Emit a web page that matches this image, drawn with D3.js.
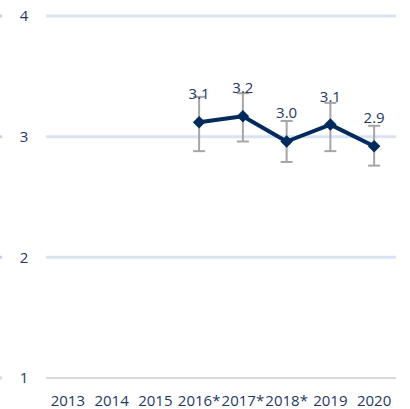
<!DOCTYPE html>
<html>
<head>
<meta charset="utf-8">
<script src="https://cdn.jsdelivr.net/npm/d3@7"></script>
<style>
  body { margin: 0; background: #fff; }
  text { font-family: "Open Sans", sans-serif; font-size: 15px; fill: #1f3864; }
</style>
</head>
<body>
<div id="chart"></div>
<script>
// values
var years = ["2013", "2014", "2015", "2016*", "2017*", "2018*", "2019", "2020"];
var meanVals = [null, null, null, 3.12, 3.17, 2.96, 3.10, 2.92];
var lowVals  = [null, null, null, 2.88, 2.96, 2.79, 2.88, 2.76];
var highVals = [null, null, null, 3.33, 3.36, 3.13, 3.28, 3.09];
var yTicks = [1, 2, 3, 4];

var width = 410,
    height = 409;

var svg = d3.select("#chart").append("svg")
    .attr("width", width)
    .attr("height", height);

var x = d3.scaleBand()
    .domain(years)
    .range([46, 396]);

var y = d3.scaleLinear()
    .domain([1, 4])
    .range([378, 16]);

var points = years.map(function(yr, i) {
    return { year: yr, v: meanVals[i], lo: lowVals[i], hi: highVals[i] };
}).filter(function(d) { return d.v != null; });

function cx(d) { return x(d.year) + x.bandwidth() / 2; }

// gridlines (bottom one is the grey axis line)
svg.append("g")
    .selectAll("line")
    .data(yTicks)
    .enter().append("line")
    .attr("x1", 46)
    .attr("x2", 396)
    .attr("y1", function(d) { return y(d); })
    .attr("y2", function(d) { return y(d); })
    .attr("stroke", function(d) { return d == 1 ? "#d9d9d9" : "#dae3f3"; })
    .attr("stroke-width", function(d) { return d == 1 ? 2 : 3; });

// little stubs at the left edge
svg.append("g")
    .selectAll("line")
    .data(yTicks)
    .enter().append("line")
    .attr("x1", 0)
    .attr("x2", 2)
    .attr("y1", function(d) { return y(d); })
    .attr("y2", function(d) { return y(d); })
    .attr("stroke", function(d) { return d == 1 ? "#d9d9d9" : "#c5d3ea"; })
    .attr("stroke-width", 3);

// y labels
svg.append("g")
    .selectAll("text")
    .data(yTicks)
    .enter().append("text")
    .attr("x", 24)
    .attr("y", function(d) { return y(d); })
    .attr("dy", "0.36em")
    .attr("text-anchor", "middle")
    .text(function(d) { return d; });

// x labels
svg.append("g")
    .selectAll("text")
    .data(years)
    .enter().append("text")
    .attr("x", function(d) { return x(d) + x.bandwidth() / 2; })
    .attr("y", 406)
    .attr("text-anchor", "middle")
    .text(function(d) { return d; });

// error bars
var eb = svg.append("g")
    .attr("stroke", "#a6a6a6")
    .attr("stroke-width", 2);
eb.selectAll(".stem")
    .data(points)
    .enter().append("line")
    .attr("x1", cx).attr("x2", cx)
    .attr("y1", function(d) { return y(d.hi); })
    .attr("y2", function(d) { return y(d.lo); });
eb.selectAll(".capHi")
    .data(points)
    .enter().append("line")
    .attr("x1", function(d) { return cx(d) - 6; })
    .attr("x2", function(d) { return cx(d) + 6; })
    .attr("y1", function(d) { return y(d.hi); })
    .attr("y2", function(d) { return y(d.hi); });
eb.selectAll(".capLo")
    .data(points)
    .enter().append("line")
    .attr("x1", function(d) { return cx(d) - 6; })
    .attr("x2", function(d) { return cx(d) + 6; })
    .attr("y1", function(d) { return y(d.lo); })
    .attr("y2", function(d) { return y(d.lo); });

// line
var line = d3.line()
    .x(cx)
    .y(function(d) { return y(d.v); });

svg.append("path")
    .datum(points)
    .attr("d", line)
    .attr("fill", "none")
    .attr("stroke", "#002b5c")
    .attr("stroke-width", 4)
    .attr("stroke-linejoin", "round");

// diamond markers
svg.append("g")
    .selectAll("path")
    .data(points)
    .enter().append("path")
    .attr("d", d3.symbol().type(d3.symbolDiamond2).size(100))
    .attr("transform", function(d) { return "translate(" + cx(d) + "," + y(d.v) + ")"; })
    .attr("fill", "#002b5c");

// value labels
var fmt = d3.format(".1f");
svg.append("g")
    .selectAll("text")
    .data(points)
    .enter().append("text")
    .attr("x", cx)
    .attr("y", function(d) { return y(d.v) - 23; })
    .attr("text-anchor", "middle")
    .text(function(d) { return fmt(d.v); });
</script>
</body>
</html>
